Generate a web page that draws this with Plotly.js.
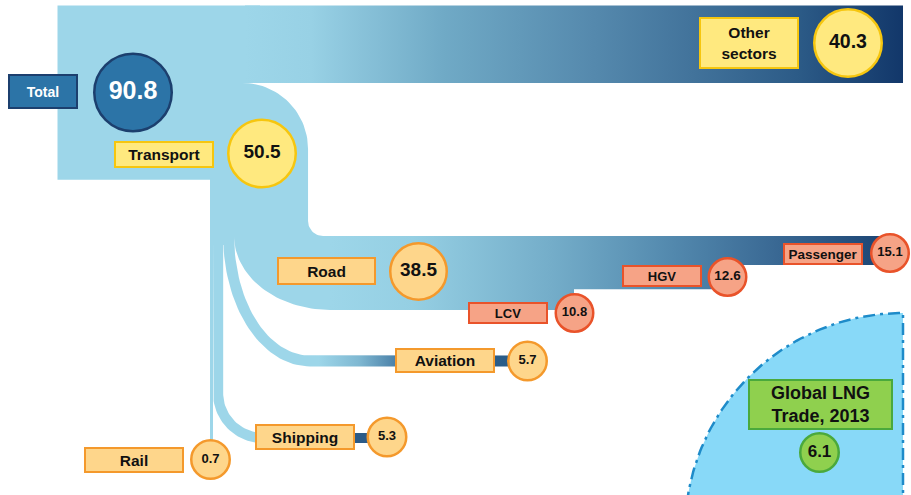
<!DOCTYPE html>
<html>
<head>
<meta charset="utf-8">
<script src="https://cdn.plot.ly/plotly-3.0.1.min.js"></script>
<style>html,body{margin:0;padding:0;background:#fff;}#chart{width:911px;height:495px;}</style>
</head>
<body>
<div id="chart"></div>
<script>
// ---------------- DATA ----------------
const flowNames  = ['Total', 'Transport', 'Other sectors', 'Road', 'Aviation', 'Shipping', 'Rail', 'Passenger', 'HGV', 'LCV'];
const flowLabels = ['Total', 'Transport', 'Other<br>sectors', 'Road', 'Aviation', 'Shipping', 'Rail', 'Passenger', 'HGV', 'LCV'];
const flowValues = [90.8, 50.5, 40.3, 38.5, 5.7, 5.3, 0.7, 15.1, 12.6, 10.8];
const lngLabel = 'Global LNG<br>Trade, 2013';
const lngValue = 6.1;

// ---------------- LAYOUT (positions / styles) ----------------
const v = {};
flowNames.forEach((n, i) => v[n] = flowValues[i]);
const k = 1.92;                 // px per unit of band thickness
const th = n => v[n] * k;

const LIGHT = '#9dd6e9';
const x0 = 57.5, y0 = 5.5, colX = 210, rightEnd = 903;
const topBottom = y0 + th('Other sectors');
const leftBottom = y0 + th('Total');
const railW = Math.max(th('Rail'), 3);
const xRail1 = colX + railW;
const xShip1 = xRail1 + th('Shipping');
const xAvi1 = xShip1 + th('Aviation');
const xRoad1 = xAvi1 + th('Road');
const roadTop = 236;
const roadBottom = roadTop + th('Road');
const passBottom = roadTop + th('Passenger');
const hgvBottom = passBottom + th('HGV');

function arc(cx, cy, rx, ry, a0, a1, n) {
  const xs = [], ys = [];
  for (let i = 0; i <= n; i++) {
    const a = (a0 + (a1 - a0) * i / n) * Math.PI / 180;
    xs.push(cx + rx * Math.cos(a)); ys.push(cy + ry * Math.sin(a));
  }
  return [xs, ys];
}
function poly(parts) {
  const xs = [], ys = [];
  parts.forEach(p => {
    if (Array.isArray(p[0])) { xs.push(...p[0]); ys.push(...p[1]); }
    else { xs.push(p[0]); ys.push(p[1]); }
  });
  return [xs, ys];
}
const noLine = {width: 0, color: 'rgba(0,0,0,0)'};
const traces = [];

// LNG quarter circle
{
  const cx = rightEnd, cy = 531, r = 218;
  const a = arc(cx, cy, r, r, 270, 180, 80);
  const [xs, ys] = poly([[cx, 560], a, [cx - r, 560], [cx, 560]]);
  traces.push({x: xs, y: ys, mode: 'lines', fill: 'toself', fillcolor: '#88d9f8',
    line: {color: '#1e8bc9', width: 2.5, dash: '12px,5px,3px,5px'}, hoverinfo: 'skip'});
}

// Base light-blue body (total block, transport turn, column, road start)
{
  const R1 = 66;
  const turn = arc(xRoad1 - R1, topBottom + R1, R1, R1, -90, 0, 30);
  const corner = arc(xRoad1 + 15, roadTop - 15, 15, 15, 180, 90, 15);
  const roadInner = arc(330, roadTop, 330 - xAvi1, th('Road'), 90, 180, 40);
  const [xs, ys] = poly([[x0, y0], [260, y0], [260, topBottom], turn, corner,
    [340, roadTop], [340, roadBottom], roadInner, [xAvi1, roadTop + 9], [colX, roadTop + 9],
    [colX, leftBottom], [x0, leftBottom], [x0, y0]]);
  traces.push({x: xs, y: ys, mode: 'lines', fill: 'toself', fillcolor: LIGHT, line: noLine, hoverinfo: 'skip'});
}

// Other sectors band (gradient)
{
  const xs = [245, rightEnd, rightEnd, 245, 245], ys = [y0, y0, topBottom, topBottom, y0];
  traces.push({x: xs, y: ys, mode: 'lines', fill: 'toself', line: noLine, hoverinfo: 'skip',
    fillgradient: {type: 'horizontal', start: 245, stop: rightEnd,
      colorscale: [[0, LIGHT], [0.1, '#98d1e5'], [0.3, '#70aac6'], [0.53, '#5589ad'], [0.68, '#42739b'], [0.84, '#2c5b87'], [1, '#12376a']]}});
}

// Road band with steps (gradient)
{
  const xEnd = 885, xH = 727, xL = 574;
  const xs = [330, xEnd, xEnd, xH, xH, xL, xL, 330, 330];
  const ys = [roadTop, roadTop, passBottom, passBottom, hgvBottom, hgvBottom, roadBottom, roadBottom, roadTop];
  traces.push({x: xs, y: ys, mode: 'lines', fill: 'toself', line: noLine, hoverinfo: 'skip',
    fillgradient: {type: 'horizontal', start: 330, stop: xEnd,
      colorscale: [[0, LIGHT], [0.15, '#95cfe3'], [0.4, '#74adc9'], [0.62, '#5288ad'], [0.8, '#3a6994'], [1, '#1c4574']]}});
}

// Aviation band
{
  const mid = 361, tb = mid - th('Aviation') / 2, bb = mid + th('Aviation') / 2, cx = 310, xe = 512;
  const outer = arc(cx, roadTop, cx - xShip1, bb - roadTop, 180, 90, 40);
  const inner = arc(cx, roadTop, cx - xAvi1, tb - roadTop, 90, 180, 40);
  const [xs, ys] = poly([outer, [xe, bb], [xe, tb], inner]);
  traces.push({x: xs, y: ys, mode: 'lines', fill: 'toself', line: noLine, hoverinfo: 'skip',
    fillgradient: {type: 'horizontal', start: xShip1, stop: xe,
      colorscale: [[0, LIGHT], [0.33, LIGHT], [0.47, '#7fb8d2'], [0.6, '#4a80a8'], [0.7, '#2c5f8b'], [1, '#2a5c88']]}});
}

// Shipping band
{
  const mid = 438, tb = mid - th('Shipping') / 2, bb = mid + th('Shipping') / 2, Ro = 50, xe = 372;
  const cx = xRail1 + Ro, cy = bb - Ro;
  const outer = arc(cx, cy, Ro, Ro, 180, 90, 30);
  const inner = arc(cx, cy, cx - xShip1, cx - xShip1, 90, 180, 30);
  const [xs, ys] = poly([[xRail1, roadTop], outer, [xe, bb], [xe, tb], inner, [xShip1, roadTop]]);
  traces.push({x: xs, y: ys, mode: 'lines', fill: 'toself', line: noLine, hoverinfo: 'skip',
    fillgradient: {type: 'horizontal', start: xRail1, stop: xe,
      colorscale: [[0, LIGHT], [0.5, LIGHT], [0.8, '#3e6f99'], [0.86, '#2b5a87'], [1, '#2b5a87']]}});
}

// Rail line
traces.push({x: [colX, xRail1, xRail1, colX, colX], y: [leftBottom - 1, leftBottom - 1, 445, 445, leftBottom - 1],
  mode: 'lines', fill: 'toself', fillcolor: LIGHT, line: noLine, hoverinfo: 'skip'});

// ---------------- circles ----------------
const styles = {
  blue:   {fill: '#2c74a7', line: '#1c3f6e', txt: '#ffffff'},
  yellow: {fill: '#ffe97f', line: '#f6c60f', txt: '#111111'},
  orange: {fill: '#fed68b', line: '#f4992c', txt: '#111111'},
  salmon: {fill: '#f6a386', line: '#e9532a', txt: '#111111'},
  green:  {fill: '#8fd04e', line: '#4aa93c', txt: '#111111'}
};
const circlePos = {
  'Total': [133, 92.5, 80, 25, 'blue'], 'Transport': [262, 153.5, 70, 19, 'yellow'],
  'Other sectors': [848, 43, 70, 19.5, 'yellow'], 'Road': [418.5, 271.5, 59, 19, 'orange'],
  'Aviation': [527.5, 361, 41, 13, 'orange'], 'Shipping': [387, 437, 41, 13, 'orange'],
  'Rail': [210.5, 459.5, 41, 13, 'orange'], 'Passenger': [890, 253, 40, 13, 'salmon'],
  'HGV': [727.5, 277, 40, 13.5, 'salmon'], 'LCV': [574.5, 313, 40, 13, 'salmon']
};
const cx = [], cy = [], cs = [], cf = [], cl = [], ct = [], tf = [], tc = [];
flowNames.forEach(n => {
  const p = circlePos[n], s = styles[p[4]];
  cx.push(p[0]); cy.push(p[1]); cs.push(p[2] - 2.5); cf.push(s.fill); cl.push(s.line);
  ct.push('<b>' + v[n].toFixed(1) + '</b>'); tf.push(p[3]); tc.push(s.txt);
});
cx.push(819.5); cy.push(452.5); cs.push(41 - 2.5); cf.push(styles.green.fill); cl.push(styles.green.line);
ct.push('<b>' + lngValue.toFixed(1) + '</b>'); tf.push(17); tc.push('#111111');
traces.push({x: cx, y: cy, mode: 'markers+text', text: ct, textposition: 'middle center',
  textfont: {family: 'Liberation Sans, Arial, sans-serif', size: tf, color: tc},
  marker: {size: cs, color: cf, line: {color: cl, width: 2.5}, opacity: 1}, hoverinfo: 'skip', cliponaxis: false});

// ---------------- label boxes ----------------
const boxPos = {
  'Total': [43, 91.5, 70, 35, 14, 'blue'], 'Transport': [164, 154, 100, 27, 15.5, 'yellow'],
  'Other sectors': [749, 43, 100, 52, 15.5, 'yellow'], 'Road': [326, 271, 99, 28, 15.5, 'orange'],
  'Aviation': [445, 360.5, 100, 25, 15.5, 'orange'], 'Shipping': [305, 436.5, 100, 26, 15.5, 'orange'],
  'Rail': [134, 460, 100, 26, 15.5, 'orange'], 'Passenger': [823, 253.5, 80, 22, 13.5, 'salmon'],
  'HGV': [662, 276, 80, 22, 13, 'salmon'], 'LCV': [508, 313, 80, 22, 13, 'salmon']
};
const annotations = flowNames.map((n, i) => {
  const p = boxPos[n], s = styles[p[5]];
  return {x: p[0], y: p[1], xref: 'x', yref: 'y', showarrow: false, xanchor: 'center', yanchor: 'middle',
    text: '<b>' + flowLabels[i] + '</b>', width: p[2] - 4, height: p[3] - 4, borderpad: 0, borderwidth: 2,
    bgcolor: s.fill, bordercolor: s.line, align: 'center',
    font: {family: 'Liberation Sans, Arial, sans-serif', size: p[4], color: s.txt}};
});
annotations.push({x: 820.5, y: 404.5, xref: 'x', yref: 'y', showarrow: false, xanchor: 'center', yanchor: 'middle',
  text: '<b>' + lngLabel + '</b>', width: 145 - 4, height: 51 - 4, borderpad: 0, borderwidth: 2,
  bgcolor: styles.green.fill, bordercolor: styles.green.line, align: 'center',
  font: {family: 'Liberation Sans, Arial, sans-serif', size: 18, color: '#111111'}});

const layout = {
  width: 911, height: 495, margin: {l: 0, r: 0, t: 0, b: 0, pad: 0},
  paper_bgcolor: '#ffffff', plot_bgcolor: '#ffffff', showlegend: false, hovermode: false,
  xaxis: {range: [0, 911], visible: false, fixedrange: true},
  yaxis: {range: [495, 0], visible: false, fixedrange: true},
  annotations: annotations
};
Plotly.newPlot('chart', traces, layout, {displayModeBar: false, staticPlot: true});
</script>
</body>
</html>
